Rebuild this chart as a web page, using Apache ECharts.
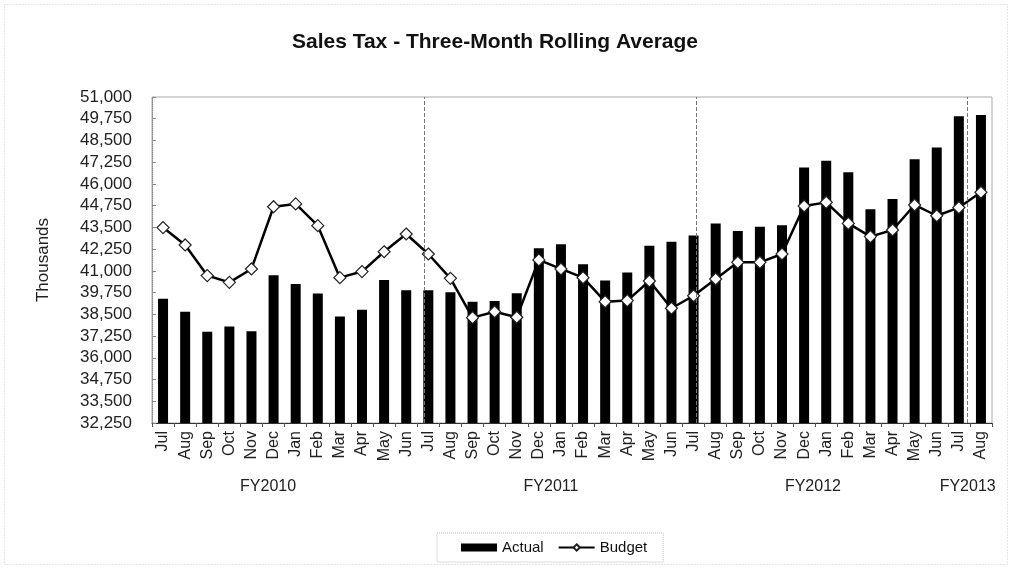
<!DOCTYPE html>
<html>
<head>
<meta charset="utf-8">
<script src="https://cdn.jsdelivr.net/npm/echarts@6/dist/echarts.min.js"></script>
<style>html,body{margin:0;padding:0;background:#fff;}#c{width:1012px;height:569px;}</style>
</head>
<body>
<div id="c"></div>
<script>
const months = ['Jul','Aug','Sep','Oct','Nov','Dec','Jan','Feb','Mar','Apr','May','Jun',
  'Jul','Aug','Sep','Oct','Nov','Dec','Jan','Feb','Mar','Apr','May','Jun',
  'Jul','Aug','Sep','Oct','Nov','Dec','Jan','Feb','Mar','Apr','May','Jun',
  'Jul','Aug'];
const actual = [39400, 38650, 37500, 37800, 37520, 40750, 40250, 39700, 38370, 38770, 40480, 39880,
  39880, 39770, 39230, 39270, 39710, 42300, 42530, 41380, 40440, 40900, 42450, 42680,
  43040, 43730, 43290, 43540, 43620, 46950, 47340, 46670, 44540, 45130, 47420, 48090,
  49900, 49960];
const budget = [43490, 42490, 40730, 40340, 41110, 44690, 44850, 43600, 40610, 40960, 42100, 43120,
  41970, 40570, 38310, 38650, 38330, 41630, 41110, 40610, 39230, 39290, 40420, 38850,
  39570, 40530, 41490, 41490, 41970, 44730, 44940, 43730, 42970, 43350, 44790, 44170,
  44640, 45520];
const yTicks = [32250, 33500, 34750, 36000, 37250, 38500, 39750, 41000, 42250, 43500, 44750, 46000, 47250, 48500, 49750, 51000];
const fyLabels = ['FY2010', 'FY2011', 'FY2012', 'FY2013'];
const fyPositions = [5.25, 18.05, 29.9, 36.9];
const fySeparators = [12.3, 24.6, 36.9];

const chart = echarts.init(document.getElementById('c'), null, {renderer: 'canvas'});
const font = "'Liberation Sans', Arial, sans-serif";
chart.setOption({
  animation: false,
  backgroundColor: '#fff',
  title: {
    text: 'Sales Tax - Three-Month Rolling Average',
    left: 490, top: 27, textAlign: 'center',
    textStyle: {fontFamily: font, fontSize: 21, fontWeight: 'bold', color: '#111'}
  },
  graphic: [{
    type: 'rect', shape: {x: 4.5, y: 4.5, width: 1003, height: 560},
    style: {fill: 'none', stroke: '#ccc', lineWidth: 1, lineDash: [1, 2]}, silent: true, z: -1
  }],
  legend: {
    left: 437, top: 533, height: 30,
    padding: [7, 16, 7, 24],
    itemGap: 14,
    borderColor: '#bbb', borderWidth: 1, borderType: 'dotted',
    textStyle: {fontFamily: font, fontSize: 15, color: '#111'},
    data: [
      {name: 'Actual', icon: 'rect', itemStyle: {color: '#000'}},
      {name: 'Budget'}
    ],
    itemWidth: 36, itemHeight: 8
  },
  grid: {left: 152, right: 20, top: 97, bottom: 146, show: true, borderColor: '#aaa', borderWidth: 1},
  xAxis: [{
    type: 'category', data: months,
    axisLine: {lineStyle: {color: '#333'}},
    axisTick: {show: true, alignWithLabel: false, length: 4, inside: false, lineStyle: {color: '#555'}},
    axisLabel: {rotate: 90, interval: 0, fontFamily: font, fontSize: 16, color: '#222', margin: 8}
  }, {
    type: 'value', min: 0, max: months.length, position: 'bottom',
    axisLine: {show: false}, axisTick: {show: false}, splitLine: {show: false},
    axisLabel: {
      customValues: fyPositions, margin: 56, fontFamily: font, fontSize: 16, color: '#222',
      formatter: function (v) { const i = fyPositions.indexOf(v); return i >= 0 ? fyLabels[i] : ''; }
    }
  }],
  yAxis: {
    type: 'value', min: yTicks[0], max: yTicks[yTicks.length - 1],
    name: 'Thousands', nameLocation: 'middle', nameGap: 100, nameRotate: 90,
    nameTextStyle: {fontFamily: font, fontSize: 17, color: '#222'},
    axisLine: {show: true, lineStyle: {color: '#888', type: 'dotted'}},
    axisTick: {show: true, customValues: yTicks, length: 4, inside: true, lineStyle: {color: '#888'}},
    splitLine: {show: false},
    axisLabel: {
      customValues: yTicks, fontFamily: font, fontSize: 17, color: '#222', margin: 20,
      formatter: function (v) { return v.toLocaleString('en-US'); }
    }
  },
  series: [{
    name: 'Actual', type: 'bar', data: actual, barWidth: 10,
    itemStyle: {color: '#000'}, z: 2
  }, {
    name: 'Budget', type: 'line', data: budget,
    symbol: 'diamond', symbolSize: 12,
    lineStyle: {color: '#000', width: 2.5},
    itemStyle: {color: '#fff', borderColor: '#222', borderWidth: 1.2},
    z: 4
  }, {
    name: 'sep', type: 'line', xAxisIndex: 1, data: [],
    markLine: {
      silent: true, symbol: 'none', label: {show: false},
      lineStyle: {color: '#777', type: 'dashed', width: 1},
      data: fySeparators.map(v => ({xAxis: v}))
    }
  }]
});
</script>
</body>
</html>
